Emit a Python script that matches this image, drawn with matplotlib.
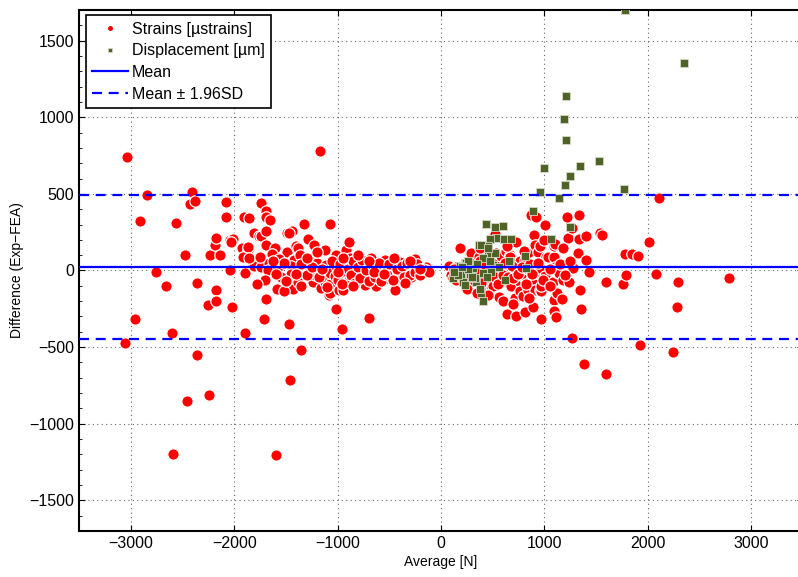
import matplotlib
matplotlib.use("Agg")
import matplotlib.pyplot as plt
from matplotlib.ticker import MultipleLocator

plt.rcParams['font.family'] = ['Liberation Sans', 'DejaVu Sans']

# Strains: average vs difference
strain_avg = [
    -3040, -3055, -2958, -2914, -2842, -2752, -2656, -2598, -2592, -2566,
    -2476, -2456, -2430, -2404, -2382, -2360, -2356, -2253, -2244, -2230,
    -2189, -2180, -2179, -2172, -2133, -2082, -2075, -2043, -2011, -2043,
    -2024, -2027, -1921, -1898, -1866, -1915, -1866, -1908, -1857, -1892,
    -1818, -1811, -1760, -1744, -1737, -1689, -1695, -1657, -1689, -1689,
    -1670, -1740, -1808, -1737, -1857, -1605, -1576, -1576, -1631, -1663,
    -1673, -1576, -1712, -1695, -1599, -1582, -1489, -1437, -1470, -1495,
    -1489, -1431, -1567, -1425, -1431, -1480, -1431, -1518, -1447, -1447,
    -1473, -1457, -1399, -1383, -1364, -1328, -1286, -1277, -1228, -1221,
    -1350, -1383, -1270, -1238, -1221, -1199, -1173, -1163, -1125, -1125,
    -1108, -1086, -1076, -1076, -1076, -1076, -1076, -1018, -1012, -1012,
    -1018, -1028, -986, -957, -948, -948, -931, -915, -915, -890,
    -883, -876, -818, -779, -754, -738, -721, -706, -696, -690,
    -673, -625, -625, -593, -561, -544, -544, -480, -480, -448,
    -406, -399, -399, -351, -309, -286, -271, -254, -222, -190,
    -141, -141,
    -1350, -1300, -1250, -1180, -1150, -1050, -1000, -980, -960, -900,
    -870, -850, -830, -800, -780, -760, -730, -700, -660, -640,
    -600, -580, -520, -500, -460, -430, -380, -360, -330, -300,
    -250, -230, -200, -170, -120, -1550, -1520, -1600, -1620, -1700,
    -1750, -1780, -1500, -1400, -1350, -1300, -1200, -1100, -1000, -950,
    -850, -800, -700, -650, -550, -450, -350, -300, -200,
    77, 100, 116, 149, 149, 188, 197, 229, 261, 278,
    294, 310, 326, 368, 374, 406, 406, 423, 439, 439,
    445, 487, 497, 503, 503, 519, 519, 535, 535, 558,
    568, 568, 584, 584, 616, 616, 632, 642, 648, 664,
    664, 664, 664, 674, 703, 713, 729, 729, 729, 729,
    761, 761, 761, 793, 793, 809, 809, 816, 841, 841,
    851, 867, 874, 874, 884, 890, 900, 906, 906, 916,
    922, 938, 955, 955, 955, 964, 971, 971, 1003, 1003,
    1019, 1035, 1083, 1090, 1093, 1093, 1093, 1100, 1100, 1116,
    1125, 1132, 1141, 1170, 1180, 1222, 1228, 1235, 1267, 1270,
    1277, 1329, 1332, 1332, 1348, 1358, 1383, 1399, 1406, 1431,
    1535, 1561, 1593, 1599, 1760, 1777, 1793, 1851, 1909, 1922,
    2012, 2083, 2105, 2244, 2277, 2292, 2784,
    130, 170, 220, 250, 300, 340, 360, 390, 420, 460,
    480, 520, 550, 600, 620, 650, 690, 700, 740, 780,
    820, 860, 880, 940, 990, 1050, 1150, 1200, 250, 350,
    450, 600, 700, 850, 1050, 380, 460, 640, 800, 1000,
    1180, 1250,
]
strain_diff = [
    740, -470, -315, 324, 494, -7, -104, -411, -1196, 312,
    102, -852, 434, 509, 456, -82, -550, -226, -811, 101,
    168, -126, -202, 211, 99, 444, 352, 196, 205, 0,
    -235, 189, 146, -15, 135, 91, 153, 348, 342, -410,
    37, 246, 226, 228, 440, 390, 352, 331, 255, 168,
    48, 20, 31, 22, 81, 146, 81, -115, 109, 48,
    5, 26, -317, -185, -1207, -119, 244, 259, 244, 113,
    118, 70, 74, 70, -104, -108, -121, -137, 31, -22,
    -348, -715, 157, 146, 102, 305, 205, 74, 166, -61,
    -518, -72, 9, -72, -28, 48, 777, -115, 131, -72,
    37, -159, 303, -7, -87, -17, -148, 96, 102, 31,
    -252, -39, -126, -380, -17, -126, 22, 135, -72, 183,
    -50, 81, -17, 48, 22, -93, -50, -17, -311, 37,
    81, 16, -104, -17, 9, 70, -56, 22, -17, -126,
    -56, 55, -50, -13, 9, -43, -17, 74, 31, 0,
    26, 0,
    40, -30, 20, -40, 10, 60, -60, 40, -90, 10,
    -30, 60, -80, 20, -50, 70, 0, -70, 30, -40,
    50, -70, -30, 40, -60, 10, 30, -40, 50, -30,
    -10, 40, -30, 10, -10, -40, 50, -20, 60, -60,
    90, -90, -70, -20, -100, 80, 120, -110, -10, 80,
    -100, 100, 60, -10, -20, 80, -80, 60, 10,
    32, -28, -50, 22, -61, 146, -17, 37, -39, 107,
    113, -61, 52, 91, 59, -104, 26, -61, 59, -39,
    -137, -104, -56, -104, 37, 87, 239, 113, 16, -174,
    -72, 70, 96, -13, 200, 26, 124, -283, -7, 102,
    87, -61, -104, -104, 9, -180, -294, 185, 48, 0,
    -72, -137, 63, -165, -39, -39, 70, -272, 9, -126,
    118, 364, 5, -61, -72, -241, 233, 168, -126, 352,
    -17, 120, 163, 16, -126, -137, -104, -317, 296, -39,
    87, 85, -72, 91, 157, -191, -263, 172, 22, -304,
    -148, -17, -17, -185, -61, 346, 209, -78, 277, -441,
    16, 113, 364, 207, -130, -252, -609, 70, 222, -10,
    244, 230, -72, -674, -89, 109, -28, 107, 93, -487,
    189, -22, 470, -533, -235, -72, -52,
    10, -30, -70, 20, -10, -40, 10, -80, 40, -20,
    10, -40, -90, -30, 50, -40, 30, -50, -20, 20,
    -90, 40, -20, 50, -60, 10, 40, -30, -120, -150,
    -160, -200, -220, -180, -100, 150, 100, 160, 130, 200,
    150, 60,
]

# Displacement: average vs difference
disp_avg = [
    1777, 2350, 1206, 1190, 1213, 1528, 1341, 996, 1245, 1196,
    955, 1767, 1141, 890, 1245, 1064, 439, 519, 597, 535,
    606, 681, 477, 368, 455, 390, 471, 519, 406, 229,
    245, 503, 664, 809, 149, 197, 278, 406, 487, 116,
    213, 342, 229, 390, 406, 616, 310, 819, 326, 181,
    261, 658, 455, 160, 300, 260, 440, 350, 560, 130,
    200, 470, 380,
]
disp_diff = [
    1700, 1354, 1136, 990, 849, 715, 684, 668, 614, 559,
    512, 535, 472, 391, 285, 205, 305, 283, 292, 211,
    203, 205, 205, 168, 161, 168, 102, 113, 81, 48,
    48, 37, 59, 93, -17, -28, -22, -17, -10, -50,
    -72, -78, -97, -148, -196, -63, 16, 16, -50, 31,
    59, 59, 146, -30, -40, 10, -40, 40, 20, -10,
    20, 60, -120,
]

mean_diff = 22
limits = [493, -448]

fig = plt.figure(figsize=(7.98, 5.77), dpi=100)
ax = fig.add_axes([0.099, 0.0797, 0.9073, 0.903])

ax.plot(strain_avg, strain_diff, 'o', color='#ff0000', markeredgecolor='white',
        markeredgewidth=0.9, markersize=8.2, label='Strains [\u00b5strains]', zorder=3)
ax.plot(disp_avg, disp_diff, 's', color='#4f6228', markeredgecolor='#d5d9c8',
        markeredgewidth=0.6, markersize=6.2, label='Displacement [\u00b5m]', zorder=4)

ax.axhline(mean_diff, color='#0000ff', lw=1.6, label='Mean', zorder=5)
for i, v in enumerate(limits):
    ax.axhline(v, color='#0000ff', lw=1.6, ls=(0, (4.5, 3)),
               label='Mean \u00b1 1.96SD' if i == 0 else None, zorder=5)

ax.set_xlim(-3500, 3500)
ax.set_ylim(-1700, 1700)
ax.yaxis.set_minor_locator(MultipleLocator(100))
ax.tick_params(which='both', direction='in', top=True, right=True, labelsize=11.5)
ax.tick_params(which='major', length=4, width=0.8)
ax.tick_params(which='minor', length=2.5, width=0.6)
ax.set_xticks(range(-3000, 3001, 1000))
ax.set_xticklabels(['\u22123000', '\u22122000', '\u22121000', '0', '1000', '2000', '3000'])
ax.set_yticks(range(-1500, 1501, 500))
ax.set_yticklabels(['\u22121500', '\u22121000', '\u2212500', '0', '500', '1000', '1500'])
ax.grid(True, which='major', ls=(0, (1, 3)), color='#666666', lw=0.8)
ax.set_axisbelow(True)
for s in ax.spines.values():
    s.set_linewidth(1.5)

ax.set_xlabel('Average [N]', fontsize=10, labelpad=3)
ax.set_ylabel('Difference (Exp\u2212FEA)', fontsize=10, labelpad=4)

leg = ax.legend(loc='upper left', bbox_to_anchor=(0.0097, 0.990), borderaxespad=0,
                fontsize=11.5, fancybox=False, edgecolor='black', framealpha=1,
                handlelength=2.2, handletextpad=0.25, labelspacing=0.42,
                borderpad=0.4, markerscale=0.55)
leg.get_frame().set_linewidth(1.2)

fig.savefig('out.png', dpi=100)
